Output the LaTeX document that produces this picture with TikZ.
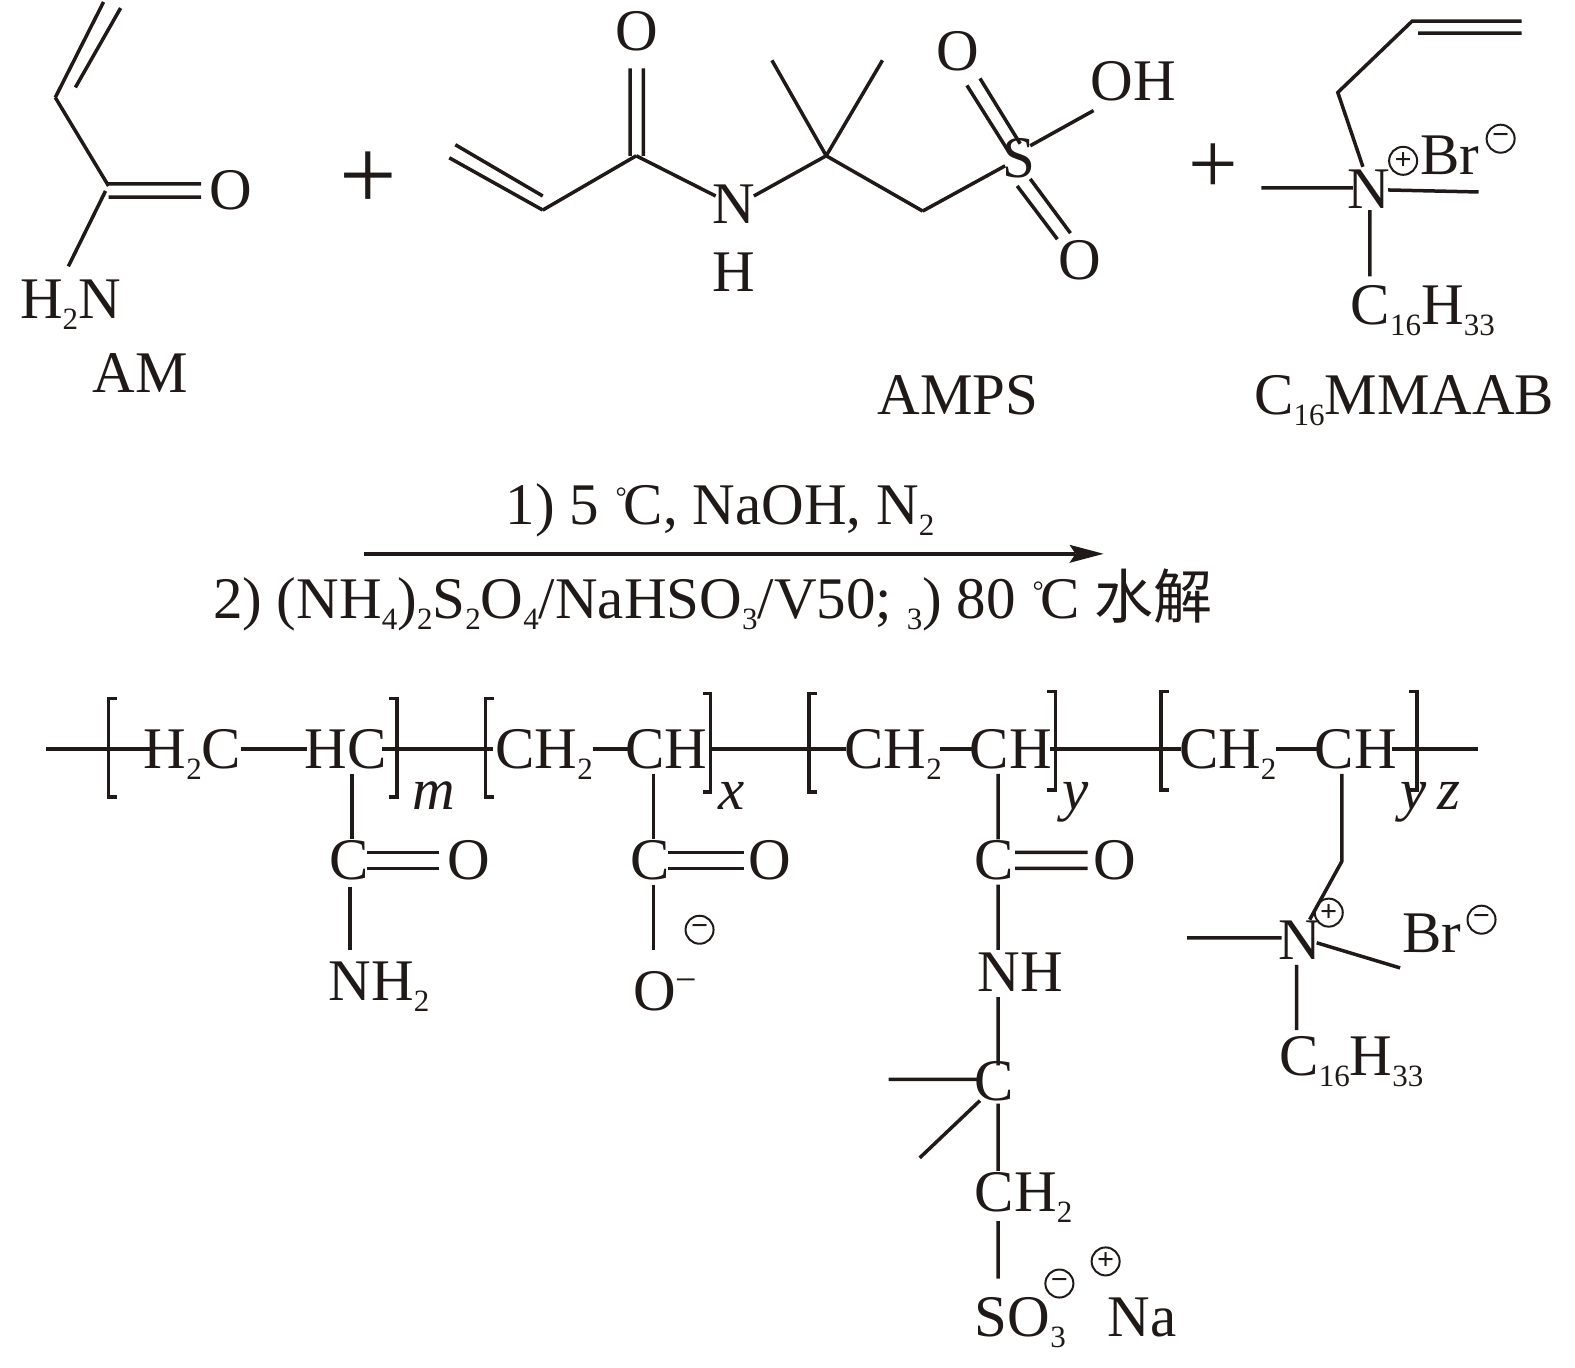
\documentclass[tikz,border=0pt]{standalone}
\usepackage{fontspec}
\setmainfont{Liberation Serif}
\newfontfamily\cjkf{Noto Sans CJK SC}
\newcommand\sbs[1]{\raisebox{-5.5pt}{\fontsize{15.5}{15.5}\selectfont #1}}
\newcommand\degc{\raisebox{0pt}{\kern1pt\fontsize{14}{14}\selectfont\raisebox{9pt}{°}\kern-1.5pt}C}
\tikzset{
 tx/.style={inner sep=0pt,outer sep=0pt,anchor=base west,font=\fontsize{29.5}{29.5}\selectfont,text=ink},
 bd/.style={draw=ink,line width=1.75pt,line cap=butt},
 chg/.style={circle,draw=ink,line width=1pt,inner sep=0pt,minimum size=14pt,font=\fontsize{15}{15}\selectfont\bfseries,text=ink},
 plusa/.style={inner sep=0pt,font=\fontsize{51}{51}\selectfont,text=ink},
 plusb/.style={inner sep=0pt,font=\fontsize{44}{44}\selectfont,text=ink},
 ital/.style={tx,font=\fontsize{29.5}{29.5}\selectfont\itshape}
}
\definecolor{ink}{HTML}{1F1A17}
\begin{document}
\begin{tikzpicture}[x=0.5025pt,y=-0.5025pt]
\useasboundingbox (0,0) rectangle (1567,1361);
% AM
\draw[bd] (55,97)--(108,185) (55,97)--(103,2) (75,87)--(120,8) (108,183)--(200,183) (108,196)--(200,196) (105,190)--(68,265);
\node[tx] (am1) at (208,208) {O};
\node[tx] (am2) at (20,317) {H\sbs{2}N};
\node[tx] (am3) at (92,391) {AM};
\node[plusa] (p1) at (366,180) {+};
% AMPS
\draw[bd] (447,157)--(540,209) (453,144)--(540,195) (540,209)--(633,155) (627,155)--(627,68) (640,155)--(640,68) (633,155)--(712,195) (750,195)--(822,155) (822,155)--(768,60) (822,155)--(878,60) (822,155)--(918,210) (918,210)--(1000,165) (962,85)--(1003,150) (975,78)--(1015,143) (1025,145)--(1088,110) (1012,185)--(1052,238) (1025,178)--(1065,232);
\node[tx] (a1) at (612,50) {O};
\node[tx] (a2) at (709,222) {N};
\node[tx] (a3) at (709,290) {H};
\node[tx] (a4) at (997,177) {S};
\node[tx] (a5) at (932,70) {O};
\node[tx] (a6) at (1085,100) {OH};
\node[tx] (a7) at (1053,278) {O};
\node[tx] (a8) at (873,412) {AMPS};
\node[plusb] (p2) at (1207,168) {+};
% C16MMAAB
\draw[bd] (1514,21)--(1405,21)--(1331,92)--(1356,166) (1411,33)--(1514,33) (1255,187)--(1346,187) (1381,189)--(1471,191) (1363,209)--(1363,275);
\node[tx] (c1) at (1341,207) {N};
\node[chg] (c2) at (1396,160) {+};
\node[tx] (c3) at (1413,174) {Br};
\node[chg] (c4) at (1493,138) {−};
\node[tx] (c5) at (1344,323) {C\sbs{16}H\sbs{33}};
\node[tx] (c6) at (1248,412) {C\sbs{16}MMAAB};
% arrow
\coordinate (ar1) at (362,551);
\coordinate (ar2) at (1098,551);
\draw[bd] (ar1)--(1070,551);
\fill[ink] (ar2)--(1064,542)--(1070,551)--(1064,560)--cycle;
\node[tx] (r1) at (503,522) {1) 5 \degc, NaOH, N\sbs{2}};
\node[tx] (r2) at (212,615) {2) (NH\sbs{4})\sbs{2}S\sbs{2}O\sbs{4}/NaHSO\sbs{3}/V50; \sbs{3}) 80 \degc\ {\cjkf 水解}};
% backbone
\draw[bd] (46,745)--(150,745) (240,745)--(305,745) (380,745)--(490,745) (590,745)--(625,745) (705,745)--(842,745) (935,745)--(970,745) (1045,745)--(1175,745) (1270,745)--(1310,745) (1385,745)--(1470,745);
\draw[bd] (116,695)--(108,695)--(108,793)--(116,793);
\draw[bd] (387,695)--(395,695)--(395,793)--(387,793);
\draw[bd] (491,695)--(483,695)--(483,793)--(491,793);
\draw[bd] (699,690)--(707,690)--(707,788)--(699,788);
\draw[bd] (813,690)--(805,690)--(805,788)--(813,788);
\draw[bd] (1042,688)--(1050,688)--(1050,786)--(1042,786);
\draw[bd] (1163,688)--(1155,688)--(1155,786)--(1163,786);
\draw[bd] (1402,688)--(1410,688)--(1410,786)--(1402,786);
\node[tx] (b1) at (143,765) {H\sbs{2}C};
\node[tx] (b2) at (303,765) {HC};
\node[tx] (b3) at (493,765) {CH\sbs{2}};
\node[tx] (b4) at (622,765) {CH};
\node[tx] (b5) at (840,765) {CH\sbs{2}};
\node[tx] (b6) at (965,765) {CH};
\node[tx] (b7) at (1173,765) {CH\sbs{2}};
\node[tx] (b8) at (1308,765) {CH};
\node[ital] (i1) at (410,805) {m};
\node[ital] (i2) at (715,805) {x};
\node[ital] (i3) at (1057,805) {y};
\node[ital] (i4) at (1393,805) {y};
\node[ital] (i5) at (1430,805) {z};
% side 1
\draw[bd] (350,770)--(350,835) (365,848)--(437,848) (365,864)--(437,864) (348,882)--(348,945);
\node[tx] (s1) at (328,875) {C};
\node[tx] (s2) at (445,875) {O};
\node[tx] (s3) at (327,995) {NH\sbs{2}};
% side 2
\draw[bd] (650,770)--(650,835) (665,848)--(740,848) (665,864)--(740,864) (650,880)--(650,945);
\node[tx] (t1) at (627,875) {C};
\node[tx] (t2) at (745,875) {O};
\node[chg] (t3) at (696,925) {−};
\node[tx] (t4) at (630,1005) {O\raisebox{9pt}{\fontsize{19}{19}\selectfont −}};
% side 3
\draw[bd] (993,770)--(993,835) (1010,848)--(1082,848) (1010,864)--(1082,864) (993,880)--(993,945) (993,992)--(993,1060) (884,1074)--(975,1074) (975,1095)--(915,1152) (993,1098)--(993,1165) (993,1215)--(993,1272);
\node[tx] (u1) at (970,875) {C};
\node[tx] (u2) at (1088,875) {O};
\node[tx] (u3) at (973,986) {NH};
\node[tx] (u4) at (970,1095) {C};
\node[tx] (u5) at (970,1205) {CH\sbs{2}};
\node[tx] (u6) at (970,1330) {SO\sbs{3}};
\node[chg] (u7) at (1054,1277) {−};
\node[chg] (u8) at (1100,1255) {+};
\node[tx] (u9) at (1102,1330) {Na};
% side 4
\draw[bd] (1335,770)--(1335,857)--(1303,915) (1181,933)--(1275,933) (1310,938)--(1393,963) (1290,960)--(1290,1025);
\node[tx] (v1) at (1272,955) {N};
\node[chg] (v2) at (1322,908) {+};
\node[tx] (v3) at (1395,948) {Br};
\node[chg] (v4) at (1474,915) {−};
\node[tx] (v5) at (1273,1070) {C\sbs{16}H\sbs{33}};
\end{tikzpicture}
\end{document}
